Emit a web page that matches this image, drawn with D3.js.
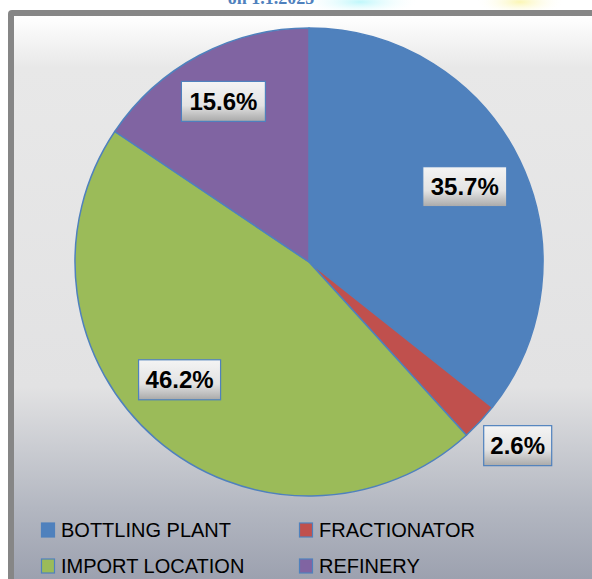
<!DOCTYPE html>
<html>
<head>
<meta charset="utf-8">
<script src="https://cdn.jsdelivr.net/npm/d3@7"></script>
<style>
  html, body { margin: 0; padding: 0; background: #ffffff; }
  svg { display: block; }
</style>
</head>
<body>
<svg id="chart" width="592" height="579"></svg>
<script>
// ---- data ----
const categories = ["BOTTLING PLANT", "FRACTIONATOR", "IMPORT LOCATION", "REFINERY"];
const values = [35.7, 2.6, 46.2, 15.6];
const labels = ["35.7%", "2.6%", "46.2%", "15.6%"];
const colors = ["#4f81bd", "#c0504d", "#9bbb59", "#8064a2"];
const titleTail = "on 1.1.2025";

const W = 592, H = 579;
const svg = d3.select("#chart");
const defs = svg.append("defs");

// background glows at the very top (behind frame)
const g1 = defs.append("radialGradient").attr("id", "glowC");
g1.append("stop").attr("offset", "0%").attr("stop-color", "#bff7fb");
g1.append("stop").attr("offset", "100%").attr("stop-color", "#ffffff").attr("stop-opacity", 0);
const g2 = defs.append("radialGradient").attr("id", "glowY");
g2.append("stop").attr("offset", "0%").attr("stop-color", "#fbf6b4");
g2.append("stop").attr("offset", "100%").attr("stop-color", "#ffffff").attr("stop-opacity", 0);
svg.append("ellipse").attr("cx", 360).attr("cy", 2).attr("rx", 60).attr("ry", 14).attr("fill", "url(#glowC)");
svg.append("ellipse").attr("cx", 520).attr("cy", 2).attr("rx", 45).attr("ry", 14).attr("fill", "url(#glowY)");

// title remnant (mostly cut off, as in the reference)
svg.append("text")
  .attr("x", 271).attr("y", 4)
  .attr("text-anchor", "middle")
  .attr("font-family", "Liberation Serif, serif")
  .attr("font-weight", "bold")
  .attr("font-size", 18)
  .attr("fill", "#4f81bd")
  .text(titleTail);

// panel background gradient
const bg = defs.append("linearGradient").attr("id", "bgGrad")
  .attr("x1", 0).attr("y1", 0).attr("x2", 0).attr("y2", 1);
bg.append("stop").attr("offset", "0%").attr("stop-color", "#ffffff");
bg.append("stop").attr("offset", "9%").attr("stop-color", "#e8e8e8");
bg.append("stop").attr("offset", "64%").attr("stop-color", "#e2e2e3");
bg.append("stop").attr("offset", "85%").attr("stop-color", "#b3b7c1");
bg.append("stop").attr("offset", "100%").attr("stop-color", "#979cab");

// frame
svg.append("rect")
  .attr("x", 8).attr("y", 10).attr("width", W + 20).attr("height", H + 20)
  .attr("rx", 4)
  .attr("fill", "#868686");
svg.append("rect")
  .attr("x", 14).attr("y", 16).attr("width", W).attr("height", H)
  .attr("fill", "url(#bgGrad)");

// pie
const cx = 309, cy = 262, R = 234;
const pie = d3.pie().sort(null).value(d => d)(values);
const arc = d3.arc().innerRadius(0).outerRadius(R);
const gPie = svg.append("g").attr("transform", `translate(${cx},${cy})`);
gPie.selectAll("path").data(pie).join("path")
  .attr("d", arc)
  .attr("fill", (d, i) => colors[i])
  .attr("stroke", "#4f81bd")
  .attr("stroke-width", 1.5)
  .attr("stroke-linejoin", "round");

// data labels
const lg = defs.append("linearGradient").attr("id", "lblGrad")
  .attr("x1", 0).attr("y1", 0).attr("x2", 0).attr("y2", 1);
lg.append("stop").attr("offset", "0%").attr("stop-color", "#f4f4f4");
lg.append("stop").attr("offset", "60%").attr("stop-color", "#e3e3e3");
lg.append("stop").attr("offset", "100%").attr("stop-color", "#a9a9a9");

const labelRadius = [173, 278, 175, 182];
const labelAngleShift = [0, -0.03, 0.12, 0];
const boxW = [84, 68, 82, 84];
const boxH = 40;
pie.forEach((d, i) => {
  const a = (d.startAngle + d.endAngle) / 2 + labelAngleShift[i];
  const r = labelRadius[i];
  const x = cx + r * Math.sin(a);
  const y = cy - r * Math.cos(a);
  const g = svg.append("g").attr("transform", `translate(${x},${y})`);
  g.append("rect")
    .attr("x", -boxW[i] / 2).attr("y", -boxH / 2)
    .attr("width", boxW[i]).attr("height", boxH)
    .attr("fill", "url(#lblGrad)")
    .attr("stroke", "#4f81bd").attr("stroke-width", 1.2);
  g.append("text")
    .attr("text-anchor", "middle")
    .attr("dy", "0.36em")
    .attr("font-family", "Liberation Sans, Arial, sans-serif")
    .attr("font-weight", "bold")
    .attr("font-size", 24)
    .attr("fill", "#000")
    .text(labels[i]);
});

// legend
const legX = [41, 299];
const legY = [530, 566];
categories.forEach((c, i) => {
  const col = i % 2, row = Math.floor(i / 2);
  const x = legX[col], y = legY[row];
  svg.append("rect")
    .attr("x", x + 0.5).attr("y", y - 7)
    .attr("width", 13).attr("height", 14)
    .attr("fill", colors[i])
    .attr("stroke", "#4f81bd").attr("stroke-width", 1.2);
  svg.append("text")
    .attr("x", x + 20).attr("y", y)
    .attr("dy", "0.37em")
    .attr("font-family", "Liberation Sans, Arial, sans-serif")
    .attr("font-size", 20)
    .attr("fill", "#000")
    .text(c);
});
</script>
</body>
</html>
